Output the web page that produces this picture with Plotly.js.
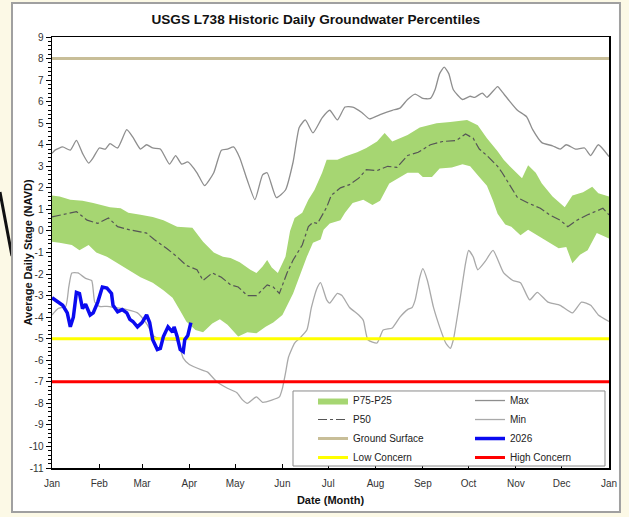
<!DOCTYPE html>
<html>
<head>
<meta charset="utf-8">
<script src="https://cdn.plot.ly/plotly-3.0.1.min.js"></script>
<style>
  html, body { margin: 0; padding: 0; background: #fcf9e6; }
  #chart { width: 629px; height: 517px; }
</style>
</head>
<body>
<div id="chart"></div>
<script>
// ---------- DATA (day of year) ----------
const monthTickVals = [0, 31, 59, 90, 120, 151, 181, 212, 243, 273, 304, 334, 365];
const monthTickLabels = ['Jan', 'Feb', 'Mar', 'Apr', 'May', 'Jun', 'Jul', 'Aug', 'Sep', 'Oct', 'Nov', 'Dec', 'Jan'];
const yTickVals = [9, 8, 7, 6, 5, 4, 3, 2, 1, 0, -1, -2, -3, -4, -5, -6, -7, -8, -9, -10, -11];
const yTickLabels = ['9', '8', '7', '6', '5', '4', '3', '2', '1', '0', '-1', '-2', '-3', '-4', '-5', '-6', '-7', '-8', '-9', '-10', '-11'];

const p75Day = [0,5,12,20,27,33,38,45,50,58,66,73,82,92,99,106,112,117,123,130,134,138,141,144,148,153,156,159,164,168,172,177,180,187,192,200,206,213,218,223,233,241,252,261,272,279,285,292,296,300,308,312,317,321,328,336,341,348,354,358,365];
const p75Val = [1.65,1.6,1.45,1.4,1.3,1.2,1.1,1.05,0.85,0.75,0.65,0.5,0.2,0.15,-0.5,-1.0,-1.2,-1.25,-1.45,-1.8,-1.95,-1.65,-1.35,-1.7,-1.95,-1.2,0.0,0.6,0.85,1.45,1.9,2.7,3.3,3.3,3.45,3.65,3.85,4.15,4.55,4.15,4.45,4.8,5.0,5.05,5.15,4.9,4.3,3.7,3.3,3.0,2.45,3.05,2.7,2.2,1.6,1.1,1.65,1.8,2.05,1.75,1.6];

const p25Day = [0,5,13,18,24,29,36,43,50,58,66,73,79,84,88,94,99,105,110,115,122,128,134,140,145,151,158,162,167,171,176,178,182,189,192,197,204,210,215,221,228,233,240,243,249,254,262,269,274,280,285,289,292,297,301,307,312,318,325,332,337,341,346,351,357,365];
const p25Val = [-0.5,-0.55,-0.65,-0.9,-0.65,-1.0,-1.2,-1.5,-1.8,-2.15,-2.4,-2.75,-3.1,-3.7,-4.2,-4.6,-4.7,-4.3,-4.1,-4.35,-4.9,-4.7,-4.75,-4.45,-4.25,-3.9,-2.9,-2.15,-1.2,-0.55,-0.4,0.05,0.35,0.5,0.85,1.3,1.45,1.2,1.4,2.2,2.5,2.7,2.7,2.5,2.5,2.9,2.95,3.1,3.0,2.5,2.1,1.4,0.8,0.3,0.2,-0.2,0.05,-0.2,-0.5,-0.8,-0.75,-1.5,-1.1,-0.9,-0.1,-0.35];

const p50Day = [0,7,16,23,30,37,43,51,62,67,75,82,88,95,99,105,111,117,122,128,134,141,145,149,154,158,164,168,171,174,180,183,189,195,201,206,213,220,226,233,240,248,256,265,271,276,280,285,292,295,300,305,312,320,326,333,338,344,351,357,361,365];
const p50Val = [0.65,0.75,0.9,0.5,0.35,0.6,0.2,0.05,-0.1,-0.4,-0.8,-1.2,-1.6,-1.8,-2.3,-1.95,-2.15,-2.5,-2.6,-3.0,-3.0,-2.5,-2.6,-2.9,-1.95,-1.35,-0.65,0.2,0.4,0.35,1.1,1.65,2.0,2.15,2.45,2.85,2.8,3.0,2.95,3.5,3.65,4.0,4.15,4.2,4.5,4.3,3.8,3.5,3.0,2.7,2.15,1.55,1.3,1.05,0.75,0.5,0.2,0.5,0.75,0.95,1.05,0.75];

const maxDay = [0,2,7,12,16,20,24,27,31,35,38,43,49,53,58,62,66,71,77,81,85,89,95,100,106,111,115,119,123,128,133,138,141,147,153,158,162,166,171,177,182,187,192,197,203,208,215,223,228,233,238,243,248,251,254,257,260,263,269,274,277,282,285,292,295,299,305,311,315,321,328,333,337,343,349,353,358,365];
const maxVal = [3.6,3.75,3.9,3.75,4.2,3.6,3.15,3.4,3.85,3.8,4.05,3.85,4.7,4.35,3.8,4.0,3.85,3.8,3.1,3.5,3.1,3.2,2.7,2.1,2.7,3.75,3.8,3.9,3.4,2.35,1.45,2.6,2.7,1.55,1.9,3.2,4.8,5.15,4.55,5.25,5.6,5.15,5.75,5.75,5.5,5.2,5.4,5.6,5.7,6.1,6.35,6.15,6.15,6.55,7.3,7.6,7.3,6.55,6.1,6.25,6.2,6.4,6.2,6.7,6.45,6.1,5.6,5.3,4.7,4.1,3.95,3.8,4.0,3.8,3.85,3.5,4.0,3.45];

const minDay = [0,4,9,11,13,17,22,26,28,31,36,41,49,56,62,67,75,82,86,90,98,102,108,115,121,125,128,134,138,144,149,151,153,155,159,162,167,170,174,176,180,182,187,190,195,201,204,207,213,217,223,228,233,236,238,241,243,246,250,254,258,261,263,267,271,273,276,279,284,289,296,302,307,313,318,325,333,341,347,353,358,365];
const minVal = [-3.9,-3.6,-3.5,-2.6,-1.95,-1.95,-2.2,-2.3,-3.3,-3.5,-3.5,-3.55,-3.65,-3.8,-4.3,-4.9,-5.05,-5.1,-5.9,-6.2,-6.45,-6.55,-7.0,-7.3,-7.5,-7.85,-8.0,-7.7,-7.95,-7.85,-7.7,-7.3,-6.6,-5.85,-5.2,-5.0,-4.6,-3.55,-2.6,-2.4,-3.2,-3.35,-2.9,-3.0,-3.55,-3.9,-4.15,-5.05,-5.2,-4.6,-4.5,-4.0,-3.65,-3.55,-3.2,-2.15,-1.75,-2.3,-3.55,-4.45,-5.2,-5.45,-5.05,-3.35,-1.5,-0.9,-1.2,-1.8,-1.4,-0.9,-1.95,-2.3,-2.4,-3.2,-2.85,-3.3,-3.45,-3.8,-3.3,-3.45,-3.9,-4.2];

const y2026Day = [0,4,7,10,12,14,16,18,20,22,25,27,30,33,36,39,40,43,46,49,51,53,56,59,62,64,66,69,71,73,76,79,80,82,84,86,87,89,91];
const y2026Val = [-3.1,-3.3,-3.45,-3.8,-4.45,-4.0,-2.85,-2.9,-3.6,-3.4,-3.9,-3.8,-3.3,-2.6,-2.65,-2.9,-3.45,-3.75,-3.65,-3.8,-4.1,-4.2,-4.45,-4.25,-3.9,-4.25,-5.05,-5.5,-5.45,-4.9,-4.45,-4.7,-4.45,-4.9,-5.5,-5.6,-5.05,-4.85,-4.25];

const yearSpan = [0, 365];
const groundSurface = 8;
const lowConcern = -5;
const highConcern = -7;

// ---------- CHART ----------
const FONT = 'Liberation Sans, Arial, Helvetica, sans-serif';

const bandX = p75Day.concat(p25Day.slice().reverse());
const bandY = p75Val.concat(p25Val.slice().reverse());

const traces = [
  { name: 'P75-P25', x: bandX, y: bandY, type: 'scatter', mode: 'lines', fill: 'toself',
    fillcolor: '#a6d672', line: { width: 0, color: '#a6d672' }, legend: 'legend', legendrank: 1, hoverinfo: 'skip' },
  { name: 'P50', x: p50Day, y: p50Val, type: 'scatter', mode: 'lines',
    line: { color: '#555555', width: 1.2, dash: 'dashdot' }, legend: 'legend', legendrank: 2 },
  { name: 'Max', x: maxDay, y: maxVal, type: 'scatter', mode: 'lines',
    line: { color: '#8e8e8e', width: 1.3, shape: 'spline', smoothing: 0.5 }, legend: 'legend2', legendrank: 1 },
  { name: 'Min', x: minDay, y: minVal, type: 'scatter', mode: 'lines',
    line: { color: '#a9a9a9', width: 1.3, shape: 'spline', smoothing: 0.5 }, legend: 'legend2', legendrank: 2 },
  { name: 'Ground Surface', x: yearSpan, y: yearSpan.map(() => groundSurface), type: 'scatter', mode: 'lines',
    line: { color: '#c8be98', width: 3 }, legend: 'legend', legendrank: 3 },
  { name: 'Low Concern', x: yearSpan, y: yearSpan.map(() => lowConcern), type: 'scatter', mode: 'lines',
    line: { color: '#ffff00', width: 3 }, legend: 'legend', legendrank: 4 },
  { name: 'High Concern', x: yearSpan, y: yearSpan.map(() => highConcern), type: 'scatter', mode: 'lines',
    line: { color: '#ff0000', width: 3 }, legend: 'legend2', legendrank: 4 },
  { name: '2026', x: y2026Day, y: y2026Val, type: 'scatter', mode: 'lines',
    line: { color: '#0a0af0', width: 3.5 }, legend: 'legend2', legendrank: 3 }
];

const legendCommon = {
  orientation: 'v', yanchor: 'top', xanchor: 'left',
  bgcolor: 'rgba(0,0,0,0)', borderwidth: 0,
  font: { family: FONT, size: 10, color: '#222' },
  traceorder: 'normal', tracegroupgap: 0
};

const layout = {
  width: 629, height: 517,
  margin: { l: 52, r: 20, t: 37, b: 49 },
  paper_bgcolor: '#fcf9e6',
  plot_bgcolor: '#ffffff',
  font: { family: FONT, size: 10, color: '#222' },
  title: {
    text: '<b>USGS L738 Historic Daily Groundwater Percentiles</b>',
    font: { family: FONT, size: 13.6, color: '#111' },
    x: 0.502, xref: 'container', xanchor: 'center',
    y: 0.963, yref: 'container', yanchor: 'middle'
  },
  xaxis: {
    range: [0, 365],
    tickmode: 'array', tickvals: monthTickVals, ticktext: monthTickLabels,
    ticks: 'inside', ticklen: 4, tickwidth: 1, tickcolor: '#000',
    ticklabelstandoff: 5,
    showline: true, linecolor: '#000', linewidth: 1.5, mirror: true,
    showgrid: false, zeroline: false,
    tickfont: { family: FONT, size: 10, color: '#333' },
    title: { text: '<b>Date (Month)</b>', font: { family: FONT, size: 11, color: '#111' }, standoff: 9 }
  },
  yaxis: {
    range: [-11, 9],
    tickmode: 'array', tickvals: yTickVals, ticktext: yTickLabels,
    ticks: 'outside', ticklen: 5, tickwidth: 1, tickcolor: '#000',
    minor: { tickmode: 'linear', tick0: 0, dtick: 0.2, ticks: 'outside', ticklen: 3, tickcolor: '#000', showgrid: false },
    showline: true, linecolor: '#000', linewidth: 1.5, mirror: true,
    showgrid: false, zeroline: false,
    tickfont: { family: FONT, size: 10, color: '#333' }
  },
  annotations: [
    { text: '<b>Average Daily Stage (NAVD)</b>', xref: 'paper', yref: 'paper',
      x: -0.0431, y: 0.5, xanchor: 'center', yanchor: 'middle', textangle: -90, showarrow: false,
      font: { family: FONT, size: 11, color: '#111' } }
  ],
  legend: Object.assign({}, legendCommon, { x: 0.4686, y: 0.1902 }),
  legend2: Object.assign({}, legendCommon, { x: 0.7504, y: 0.1902 }),
  shapes: [
    { type: 'line', xref: 'paper', yref: 'paper', layer: 'below',
      x0: -0.0934, y0: 0.6404, x1: -0.0718, y1: 0.4919,
      line: { color: '#111111', width: 3 } },
    { type: 'rect', xref: 'paper', yref: 'paper', layer: 'below',
      x0: -0.0718, x1: 1.0197, y0: -0.1021, y1: 1.0789,
      fillcolor: '#ffffff', line: { color: '#a0a0a0', width: 2 } },
    { type: 'rect', xref: 'paper', yref: 'paper', layer: 'above',
      x0: 0.4327, x1: 0.9928, y0: 0.0046, y1: 0.1787,
      fillcolor: '#ffffff', line: { color: '#8a8a8a', width: 1 } }
  ],
  showlegend: true
};

Plotly.newPlot('chart', traces, layout, { staticPlot: true, displayModeBar: false });
</script>
</body>
</html>
